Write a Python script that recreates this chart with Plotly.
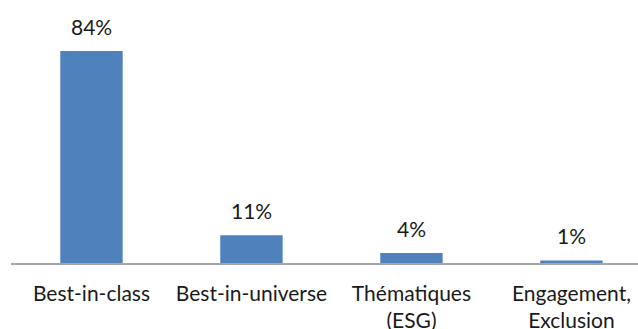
import plotly.graph_objects as go

categories = ["Best-in-class", "Best-in-universe", "Thématiques<br>(ESG)", "Engagement,<br>Exclusion"]
values = [84, 11, 4, 1]
labels = ["84%", "11%", "4%", "1%"]

fig = go.Figure()
fig.add_trace(go.Bar(
    x=list(range(len(categories))), y=values, width=0.39,
    marker=dict(color="#4f81bd", line=dict(width=0)),
    hoverinfo="skip",
))
for i, (v, t) in enumerate(zip(values, labels)):
    fig.add_annotation(x=i, y=v, text=t, showarrow=False, yanchor="bottom",
                       yshift=10, font=dict(family="Lato", size=21, color="#1a1a1a"))

fig.update_layout(
    width=638, height=329,
    margin=dict(l=11, r=0, t=10, b=66, autoexpand=False),
    paper_bgcolor="white", plot_bgcolor="white",
    showlegend=False,
    font=dict(family="Lato", size=21, color="#1a1a1a"),
    xaxis=dict(range=[-0.503, 3.416], tickmode="array",
               tickvals=list(range(len(categories))), ticktext=categories,
               showline=True, linecolor="#a6a6a6", linewidth=1.5,
               showgrid=False, zeroline=False, ticks="", automargin=False,
               ticklabelstandoff=11, tickfont=dict(size=21)),
    yaxis=dict(range=[0, 100.2], visible=False, showgrid=False, zeroline=False,
               automargin=False),
)
fig.write_html("out.html")
